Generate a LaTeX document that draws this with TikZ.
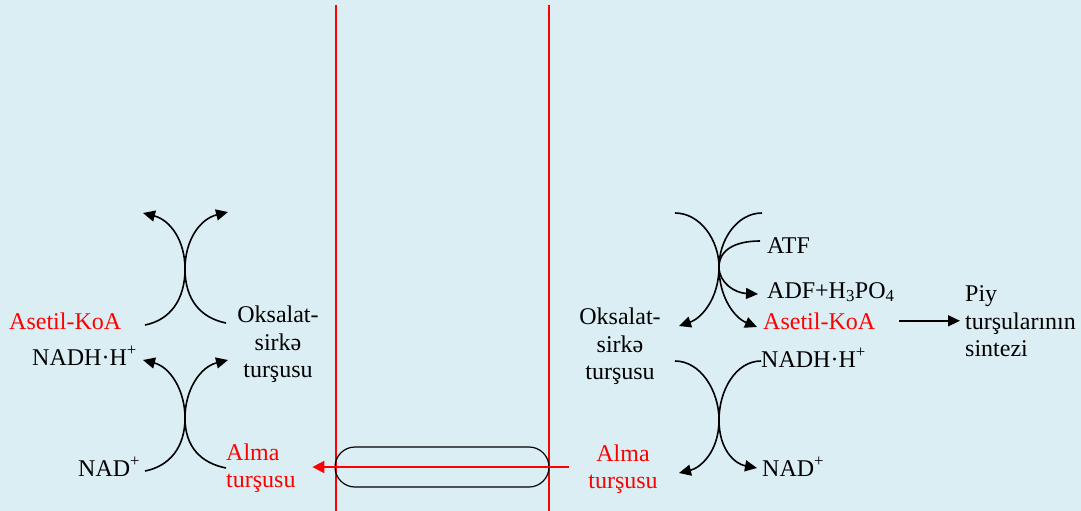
\documentclass[tikz,border=0pt]{standalone}
\usepackage{fontspec}
\setmainfont{Liberation Serif}
\usetikzlibrary{arrows.meta}
\definecolor{bg}{HTML}{DAEEF3}
\definecolor{rd}{HTML}{FF0000}
\tikzset{
  lbl/.style={inner sep=0pt, font=\fontsize{24}{27.5}\selectfont},
  redlbl/.style={lbl, text=rd},
  arr/.style={line width=1.6pt, -{Triangle[length=12pt,width=11pt]}},
  wall/.style={draw=rd, line width=1.5pt},
  redarr/.style={draw=rd, line width=2pt, -{Triangle[length=12pt,width=12pt]}},
  capsule/.style={draw, line width=1.2pt, rounded corners=20pt, minimum width=214pt, minimum height=40pt, inner sep=0pt}
}
\begin{document}
\begin{tikzpicture}[x=1pt,y=-1pt]
\useasboundingbox (0,0) rectangle (1081,511);
\fill[bg] (0,0) rectangle (1081,511);

% membrane walls
\coordinate (w1t) at (336,5); \coordinate (w1b) at (336,511);
\coordinate (w2t) at (549,5); \coordinate (w2b) at (549,511);
\draw[wall] (w1t) -- (w1b);
\draw[wall] (w2t) -- (w2b);

% carrier
\node[capsule] (cap) at (442,467) {};
\draw[redarr] ([xshift=19pt]cap.east) -- ([xshift=-22pt]cap.west);

% left labels
\node[redlbl, anchor=base west] (asetilL) at (9,329) {Asetil-KoA};
\node[lbl, anchor=base west] (nadhL) at (32,365) {NADH·H\textsuperscript{+}};
\node[lbl, anchor=base west] (nadL) at (78,476) {NAD\textsuperscript{+}};
\node[lbl, align=center] (oksL) at (278,344.5) {Oksalat-\\sirkə\\turşusu};
\node[redlbl, align=left, anchor=west] (almaL) at (226,468) {Alma\\turşusu};

% right labels
\node[lbl, align=center] (oksR) at (620,346.5) {Oksalat-\\sirkə\\turşusu};
\node[redlbl, align=center] (almaR) at (623,469) {Alma\\turşusu};
\node[lbl, anchor=base west] (atf) at (767,253) {ATF};
\node[lbl, anchor=base west] (adf) at (767,298) {ADF+H\textsubscript{3}PO\textsubscript{4}};
\node[redlbl, anchor=base west] (asetilR) at (763,329) {Asetil-KoA};
\node[lbl, anchor=base west] (nadhR) at (761,367) {NADH·H\textsuperscript{+}};
\node[lbl, anchor=base west] (nadR) at (762,476) {NAD\textsuperscript{+}};
\node[lbl, align=left, anchor=west] (piy) at (965,321.5) {Piy\\turşularının\\sintezi};

\draw[arr] ([xshift=24pt]asetilR.east) -- ([xshift=-5pt]piy.west |- asetilR.east);

% left upper cross
\coordinate (ulc) at (185,269);
\coordinate (a1) at (145,325); \coordinate (a2) at (143,213);
\coordinate (b1) at (226,323); \coordinate (b2) at (228,212);
\draw[arr] (a1) .. controls (170,320) and (185,300) .. (ulc) .. controls (185,240) and (170,220) .. (a2);
\draw[arr] (b1) .. controls (201,318) and (185,300) .. (ulc) .. controls (185,240) and (200,219) .. (b2);

% left lower cross
\coordinate (llc) at (185,418);
\coordinate (c1) at (145,471); \coordinate (c2) at (143,360);
\coordinate (d1) at (226,468); \coordinate (d2) at (228,360);
\draw[arr] (c1) .. controls (170,466) and (185,447) .. (llc) .. controls (185,390) and (170,367) .. (c2);
\draw[arr] (d1) .. controls (201,463) and (185,447) .. (llc) .. controls (185,390) and (200,367) .. (d2);

% right upper cross
\coordinate (urc) at (719,267);
\coordinate (e1) at (675,213); \coordinate (e2) at (757,327);
\coordinate (f1) at (762,213); \coordinate (f2) at (679,326);
\coordinate (g1) at (760,241); \coordinate (g2) at (758,294);
\draw[arr] (e1) .. controls (700,213) and (719,240) .. (urc) .. controls (719,298) and (735,318) .. (e2);
\draw[arr] (f1) .. controls (737,213) and (719,240) .. (urc) .. controls (719,298) and (702,318) .. (f2);
\draw[arr] (g1) .. controls (735,241) and (719,250) .. (urc) .. controls (719,283) and (735,293) .. (g2);

% right lower cross
\coordinate (lrc) at (719,420);
\coordinate (h1) at (675,361); \coordinate (h2) at (757,468);
\coordinate (i1) at (761,361); \coordinate (i2) at (679,473);
\draw[arr] (h1) .. controls (700,361) and (719,390) .. (lrc) .. controls (719,450) and (735,464) .. (h2);
\draw[arr] (i1) .. controls (736,361) and (719,390) .. (lrc) .. controls (719,452) and (700,468) .. (i2);
\end{tikzpicture}
\end{document}
